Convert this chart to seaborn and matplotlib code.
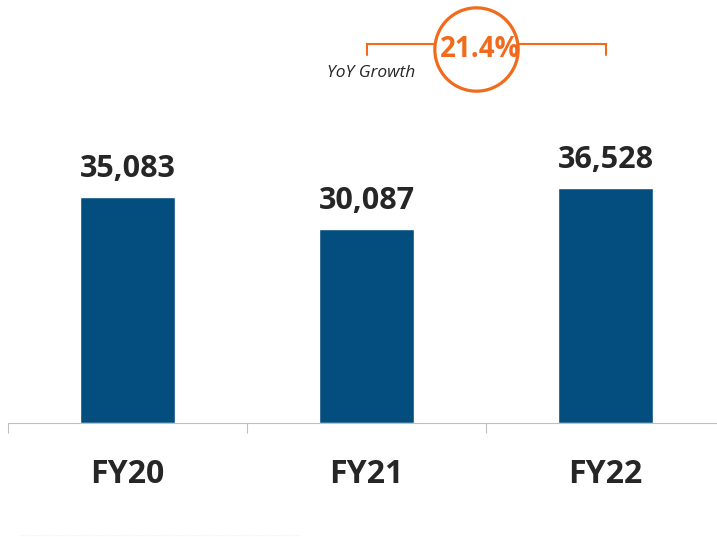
import matplotlib
matplotlib.use("Agg")
import matplotlib.pyplot as plt
import numpy as np
import pandas as pd
import seaborn as sns

# chart data
years = ["FY20", "FY21", "FY22"]
revenue = [35083, 30087, 36528]

BAR_COLOR = "#034E7E"
ORANGE = "#F26A1B"
TEXT = "#262626"
GREY = "#BFBFBF"

sns.set_theme(style="white")
plt.rcParams["font.family"] = ["Open Sans", "DejaVu Sans"]

df = pd.DataFrame({"year": years, "value": revenue})

fig = plt.figure(figsize=(7.17, 5.37), dpi=100)
# axis baseline ~423px from top, categories 239px wide starting at x=8
ax = fig.add_axes([8 / 717, 114 / 537, 1.0, 423 / 537])

sns.barplot(data=df, x="year", y="value", color=BAR_COLOR, width=0.4,
            saturation=1, ax=ax)

ax.set_xlim(-0.5, 2.5)
ymax = 423 * revenue[0] / 226
ax.set_ylim(0, ymax)
px = ymax / 423  # data units per pixel

# value labels above bars
for i, v in enumerate(df["value"]):
    ax.annotate(f"{v:,}", xy=(i, v), xytext=(0, 14.4), textcoords="offset points",
                ha="center", va="baseline", fontsize=22, fontweight="bold",
                color=TEXT)

# axis styling
for s in ["top", "right", "left"]:
    ax.spines[s].set_visible(False)
ax.spines["bottom"].set_color(GREY)
ax.spines["bottom"].set_linewidth(0.8)
ax.set_yticks([])
ax.set_xlabel("")
ax.set_ylabel("")
ax.set_xticks(range(len(years)))
ax.set_xticklabels(years, fontsize=23, fontweight="bold", color=TEXT)
ax.set_xticks(np.arange(-0.5, len(years), 1.0), minor=True)
ax.tick_params(axis="x", which="major", length=0, pad=25)
ax.tick_params(axis="x", which="minor", length=7.2, width=0.8, color=GREY,
               direction="out", bottom=True)

# YoY growth annotation between FY21 and FY22
growth = revenue[2] / revenue[1] - 1
bracket_y = (423 - 44) * px
drop = 11 * px
ax.plot([1, 1, 2, 2], [bracket_y - drop, bracket_y, bracket_y, bracket_y - drop],
        color=ORANGE, lw=1.5, clip_on=False, solid_joinstyle="miter")
circ_x = 1.46
circ_y = (423 - 48.5) * px
ax.scatter([circ_x], [circ_y], s=3600, facecolor="white", edgecolor=ORANGE,
           linewidth=2.3, zorder=5, clip_on=False)
ax.text(circ_x + 0.017, circ_y - 0.5 * px, f"{growth * 100:.1f}%", ha="center",
        va="center", fontsize=20, fontweight="bold", color=ORANGE, zorder=6)
ax.text(1.203, (423 - 73) * px, "YoY Growth", ha="right", va="center",
        fontsize=12.5, fontstyle="italic", color=TEXT)

# faint rule at the bottom
fig.add_artist(plt.Line2D([20 / 717, 300 / 717], [2 / 537, 2 / 537],
                          color="#F2F2F2", lw=0.8, ls=(0, (1, 1))))

fig.savefig("out.png", dpi=100)
